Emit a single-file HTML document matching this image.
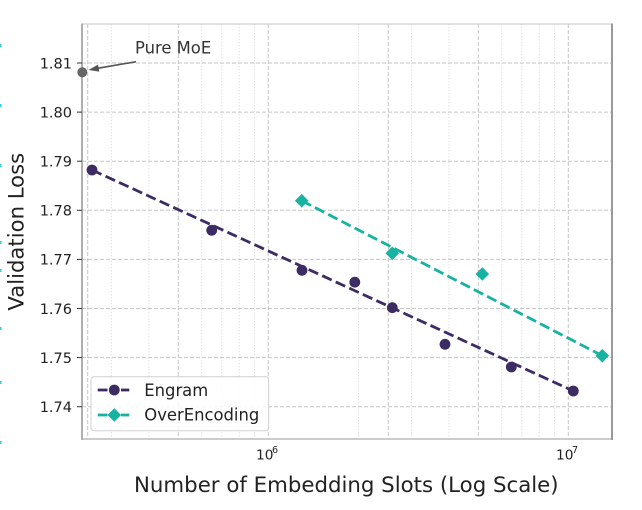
<!DOCTYPE html>
<html><head><meta charset="utf-8"><style>
html,body{margin:0;padding:0;background:#fff;}
svg{display:block;}
text{font-family:"DejaVu Sans","Liberation Sans",sans-serif;}
</style></head><body>
<svg width="642" height="510" viewBox="0 0 642 510" xmlns="http://www.w3.org/2000/svg">
<rect width="642" height="510" fill="#fff"/>
<g fill="#3ec6e6">
<rect x="0" y="44" width="1.5" height="3"/><rect x="0" y="104" width="1.5" height="3"/>
<rect x="0" y="164" width="1.5" height="3"/><rect x="0" y="241" width="1.5" height="3"/>
<rect x="0" y="269" width="1.5" height="3"/><rect x="0" y="327" width="1.5" height="3"/>
<rect x="0" y="381" width="1.5" height="3"/><rect x="0" y="441" width="1.5" height="3"/>
</g>
<g stroke="#e2e2e2" stroke-width="1" stroke-dasharray="1.5,1.5">
<line x1="111.4" y1="24" x2="111.4" y2="439"/><line x1="148.9" y1="24" x2="148.9" y2="439"/>
<line x1="201.7" y1="24" x2="201.7" y2="439"/><line x1="221.8" y1="24" x2="221.8" y2="439"/>
<line x1="239.2" y1="24" x2="239.2" y2="439"/><line x1="254.6" y1="24" x2="254.6" y2="439"/>
<line x1="358.6" y1="24" x2="358.6" y2="439"/><line x1="411.4" y1="24" x2="411.4" y2="439"/>
<line x1="448.9" y1="24" x2="448.9" y2="439"/><line x1="501.7" y1="24" x2="501.7" y2="439"/>
<line x1="521.8" y1="24" x2="521.8" y2="439"/><line x1="539.2" y1="24" x2="539.2" y2="439"/>
<line x1="554.6" y1="24" x2="554.6" y2="439"/>
</g>
<g stroke="#c6c6c6" stroke-width="1" stroke-dasharray="4,2">
<line x1="87.7" y1="24" x2="87.7" y2="439"/><line x1="178.3" y1="24" x2="178.3" y2="439"/>
<line x1="268.3" y1="24" x2="268.3" y2="439"/><line x1="388.3" y1="24" x2="388.3" y2="439"/>
<line x1="478.3" y1="24" x2="478.3" y2="439"/><line x1="568.3" y1="24" x2="568.3" y2="439"/>
<line x1="82" y1="406.7" x2="612" y2="406.7"/><line x1="82" y1="357.6" x2="612" y2="357.6"/>
<line x1="82" y1="308.5" x2="612" y2="308.5"/><line x1="82" y1="259.4" x2="612" y2="259.4"/>
<line x1="82" y1="210.3" x2="612" y2="210.3"/><line x1="82" y1="161.2" x2="612" y2="161.2"/>
<line x1="82" y1="112.1" x2="612" y2="112.1"/><line x1="82" y1="63.0" x2="612" y2="63.0"/>
</g>
<line x1="82" y1="24" x2="612" y2="24" stroke="#cfcfcf" stroke-width="1.2"/>
<line x1="82" y1="439" x2="612" y2="439" stroke="#cccccc" stroke-width="2"/>
<line x1="82" y1="23.5" x2="82" y2="440" stroke="#b0b0b0" stroke-width="2"/>
<line x1="612" y1="23.5" x2="612" y2="440" stroke="#9a9a9a" stroke-width="2"/>
<g stroke="#333" stroke-width="1">
<line x1="77" y1="406.7" x2="82" y2="406.7"/><line x1="77" y1="357.6" x2="82" y2="357.6"/>
<line x1="77" y1="308.5" x2="82" y2="308.5"/><line x1="77" y1="259.4" x2="82" y2="259.4"/>
<line x1="77" y1="210.3" x2="82" y2="210.3"/><line x1="77" y1="161.2" x2="82" y2="161.2"/>
<line x1="77" y1="112.1" x2="82" y2="112.1"/><line x1="77" y1="63.0" x2="82" y2="63.0"/>
</g>
<g font-size="14.5" fill="#222" text-anchor="end">
<text x="72" y="412">1.74</text><text x="72" y="362.9">1.75</text>
<text x="72" y="313.8">1.76</text><text x="72" y="264.7">1.77</text>
<text x="72" y="215.6">1.78</text><text x="72" y="166.5">1.79</text>
<text x="72" y="117.4">1.80</text><text x="72" y="68.3">1.81</text>
</g>
<g fill="#222">
<text x="256" y="459.3" font-size="13.7">10</text><text x="272" y="453" font-size="9.6">6</text>
<text x="556" y="459.3" font-size="13.7">10</text><text x="572" y="453" font-size="9.6">7</text>
</g>
<text x="346.3" y="492" font-size="21.3" fill="#222" text-anchor="middle">Number of Embedding Slots (Log Scale)</text>
<text transform="translate(23.5,231.7) rotate(-90)" x="0" y="0" font-size="21.2" fill="#222" text-anchor="middle">Validation Loss</text>
<line x1="92" y1="170" x2="573.3" y2="391" stroke="#3d2c64" stroke-width="2.8" stroke-dasharray="10.4,4.5"/>
<line x1="301.7" y1="200.7" x2="602.3" y2="355.7" stroke="#17b3a2" stroke-width="2.8" stroke-dasharray="10.4,4.5"/>
<g fill="#3d2c64">
<circle cx="92" cy="170" r="5.4"/><circle cx="211.7" cy="230.3" r="5.4"/>
<circle cx="302" cy="270.3" r="5.4"/><circle cx="354.8" cy="282.2" r="5.4"/>
<circle cx="392.3" cy="307.7" r="5.4"/><circle cx="445" cy="344.3" r="5.4"/>
<circle cx="511.3" cy="367" r="5.4"/><circle cx="573.3" cy="391" r="5.4"/>
</g>
<g fill="#17b3a2">
<polygon points="301.7,193.9 308.5,200.7 301.7,207.5 294.9,200.7"/>
<polygon points="392.3,246.5 399.1,253.3 392.3,260.1 385.5,253.3"/>
<polygon points="482.3,267.2 489.1,274 482.3,280.8 475.5,274"/>
<polygon points="602.3,348.9 609.1,355.7 602.3,362.5 595.5,355.7"/>
</g>
<circle cx="82.3" cy="72.3" r="5" fill="#666"/>
<line x1="136" y1="61.7" x2="96" y2="68.6" stroke="#555" stroke-width="1.6"/>
<polygon points="88.5,70 98,64.6 99.3,71.6" fill="#555"/>
<text x="135" y="53.3" font-size="16.4" fill="#333">Pure MoE</text>
<rect x="91" y="376.7" width="177.7" height="54" rx="3" ry="3" fill="#fff" fill-opacity="0.85" stroke="#d0d0d0" stroke-width="1"/>
<g stroke-width="2.8">
<line x1="97.7" y1="390" x2="107.5" y2="390" stroke="#3d2c64"/>
<line x1="121" y1="390" x2="129.3" y2="390" stroke="#3d2c64"/>
<line x1="97.7" y1="415" x2="107.5" y2="415" stroke="#17b3a2"/>
<line x1="121" y1="415" x2="129.3" y2="415" stroke="#17b3a2"/>
</g>
<circle cx="114.3" cy="390" r="5.4" fill="#3d2c64"/>
<polygon points="114.3,408.2 121.1,415 114.3,421.8 107.5,415" fill="#17b3a2"/>
<text x="144.3" y="396" font-size="16.4" fill="#222">Engram</text>
<text x="144.3" y="420.7" font-size="16.4" fill="#222">OverEncoding</text>
</svg>
</body></html>
